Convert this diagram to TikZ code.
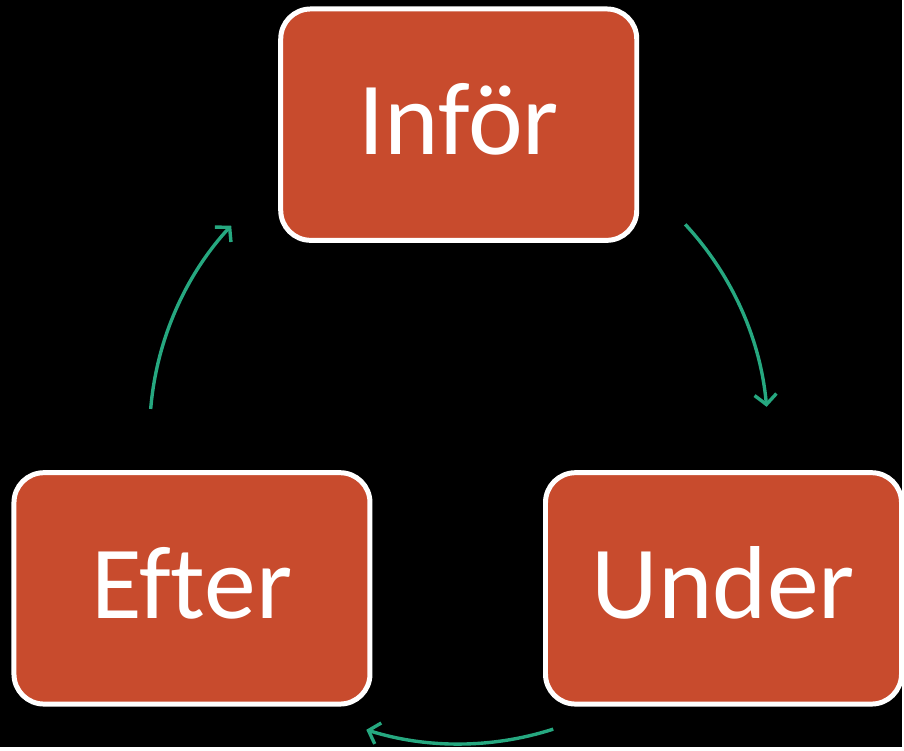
\documentclass[tikz,border=0pt]{standalone}
\usepackage{fontspec}
\setmainfont{Carlito}[Ligatures={NoCommon}]
\usetikzlibrary{arrows.meta}
\definecolor{boxfill}{RGB}{200,75,45}
\definecolor{flowgreen}{RGB}{38,168,128}
\begin{document}
\begin{tikzpicture}[x=1pt,y=1pt,
		phase/.style={draw=white,line width=5pt,fill=boxfill,rounded corners=30pt,minimum width=357pt,minimum height=232pt,inner sep=0pt,text height=70pt,text depth=10pt,text=white,font=\fontsize{104}{120}\selectfont},
		flow/.style={draw=flowgreen,line width=3.4pt,-{Straight Barb[length=10pt,width=22pt]}}]
		\fill[black] (0,0) rectangle (904,749);
		\node[phase] (infor) at (460,624) {Inför};
		\node[phase] (under) at (725.5,159) {Under};
		\node[phase] (efter) at (192.5,159) {Efter};
		\coordinate (c) at (460,313);
		\draw[flow] ([shift={(42.9:310)}]c) arc[start angle=42.9,end angle=5.2,radius=310];
		\draw[flow] ([shift={(-72.2:310)}]c) arc[start angle=-72.2,end angle=-107.4,radius=310];
		\draw[flow] ([shift={(175.2:310)}]c) arc[start angle=175.2,end angle=137.4,radius=310];
	\end{tikzpicture}
\end{document}
